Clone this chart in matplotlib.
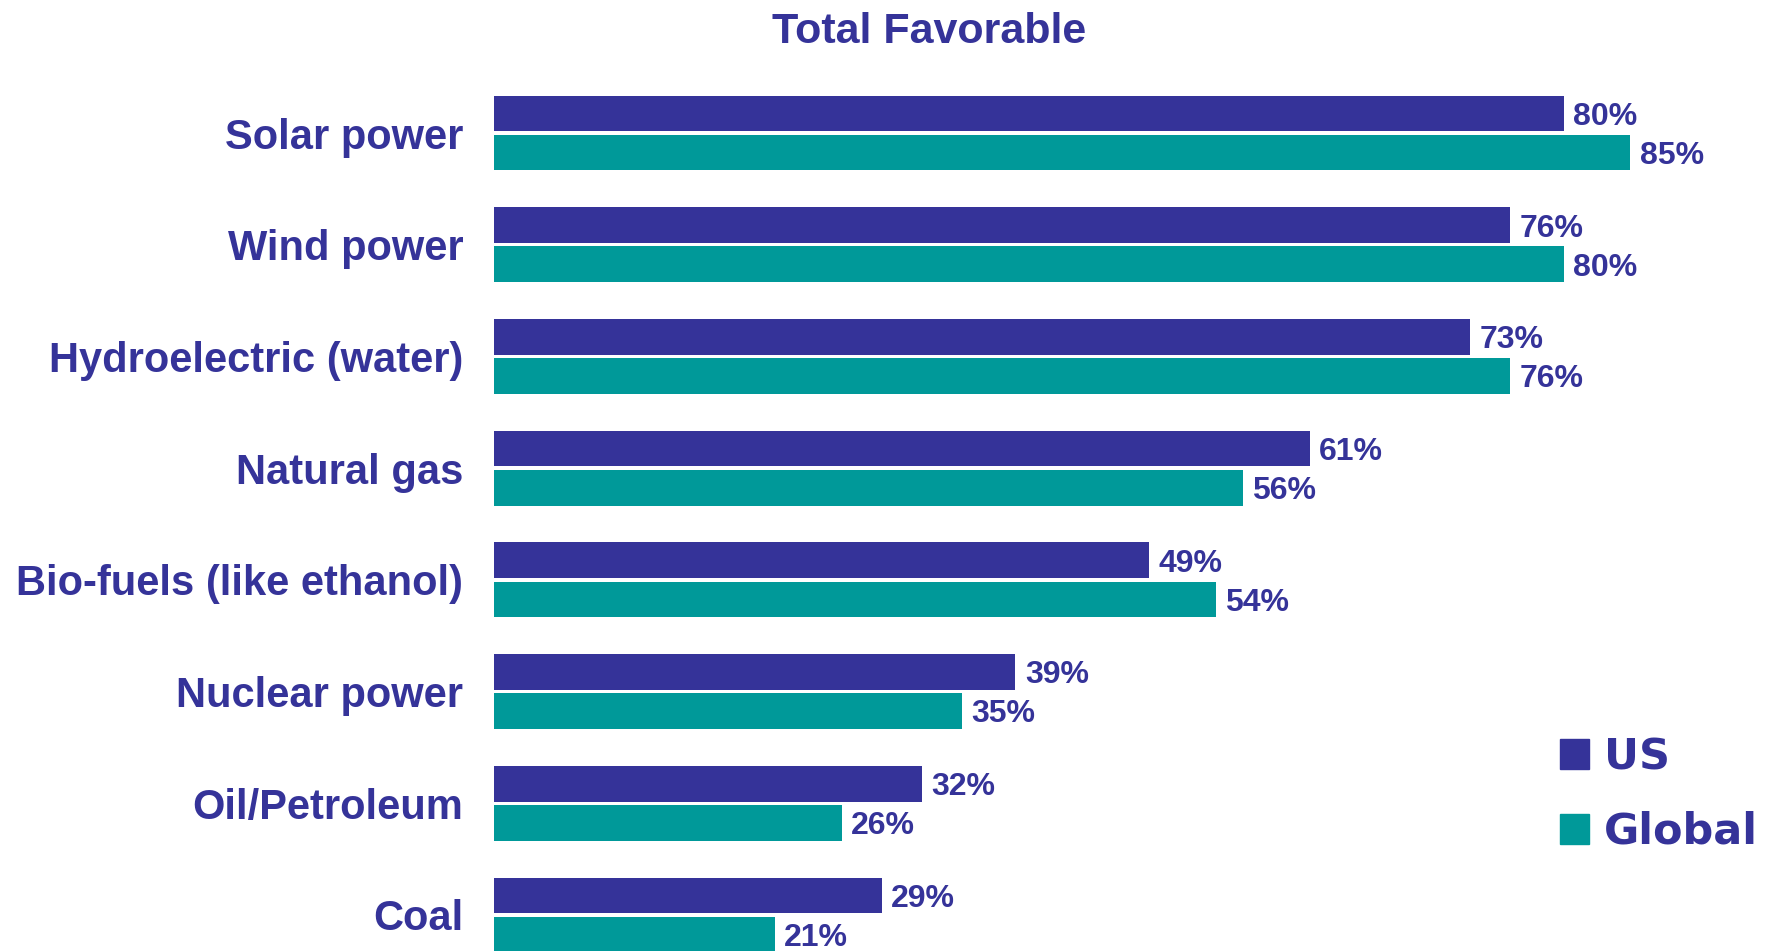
import matplotlib
matplotlib.use("Agg")
import matplotlib.pyplot as plt
import numpy as np

plt.rcParams['font.family'] = ['Liberation Sans', 'DejaVu Sans']

sources = ["Solar power", "Wind power", "Hydroelectric (water)", "Natural gas",
           "Bio-fuels (like ethanol)", "Nuclear power", "Oil/Petroleum", "Coal"]
us = [80, 76, 73, 61, 49, 39, 32, 29]
world = [85, 80, 76, 56, 54, 35, 26, 21]

US_COLOR = "#353399"
GLOBAL_COLOR = "#009999"

fig = plt.figure(figsize=(17.69, 9.51), dpi=100)
ax = fig.add_axes([494 / 1769, 0, 1337 / 1769, 1])

y = np.arange(len(sources))
h = 0.32
off = 0.175
ax.barh(y - off, us, height=h, color=US_COLOR)
ax.barh(y + off, world, height=h, color=GLOBAL_COLOR)

# value labels sit just right of each bar
for yi, v in zip(y, us):
    ax.text(v + 0.7, yi - off + 0.03, f"{v}%", va="center", ha="left",
            fontsize=23, fontweight="bold", color=US_COLOR)
for yi, v in zip(y, world):
    ax.text(v + 0.7, yi + off + 0.03, f"{v}%", va="center", ha="left",
            fontsize=23, fontweight="bold", color=US_COLOR)

ax.set_xlim(0, 100)
ax.set_ylim(7 + 36 / 111.7, -133 / 111.7)
ax.set_yticks(y)
ax.set_yticklabels(sources, fontsize=30, fontweight="bold", color=US_COLOR)
ax.tick_params(axis="y", length=0, pad=22)
ax.set_xticks([])
for s in ax.spines.values():
    s.set_visible(False)

fig.text(929 / 1769, 1 - 32 / 951, "Total Favorable", ha="center", va="center",
         fontsize=31, fontweight="bold", color=US_COLOR)

# legend drawn by hand: square swatch plus bold label
for label, color, yc in [("US", US_COLOR, 754), ("Global", GLOBAL_COLOR, 829)]:
    fig.patches.append(plt.Rectangle((1560 / 1769, 1 - (yc + 15) / 951), 29 / 1769, 30 / 951,
                                     transform=fig.transFigure, color=color))
    fig.text(1604 / 1769, 1 - (yc + 3) / 951, label, ha="left", va="center",
             fontsize=31, fontweight="bold", color=US_COLOR, family="DejaVu Sans")

fig.savefig("out.png", dpi=100)
